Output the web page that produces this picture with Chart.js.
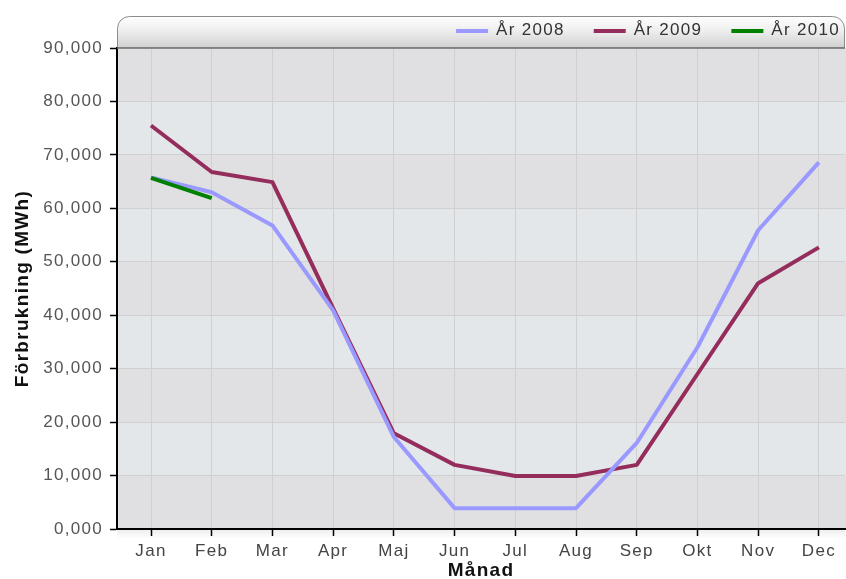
<!DOCTYPE html>
<html><head><meta charset="utf-8">
<script src="https://cdn.jsdelivr.net/npm/chart.js@4/dist/chart.umd.min.js"></script>
<style>html,body{margin:0;padding:0;background:#fff;}</style>
</head><body>
<canvas id="c" width="846" height="579"></canvas>
<script>
const months = ['Jan','Feb','Mar','Apr','Maj','Jun','Jul','Aug','Sep','Okt','Nov','Dec'];
const seriesNames = ['År 2008','År 2009','År 2010'];
const seriesColors = ['#9999ff','#952d5c','#008000'];
const values2008 = [65800, 63000, 56800, 40900, 17200, 3900, 3900, 3900, 16100, 34000, 55900, 68600];
const values2009 = [75500, 66800, 64900, 41300, 17900, 12000, 9900, 9900, 12000, 29000, 46000, 52700];
const values2010 = [65700, 61900];
const yTickValues = [0,10000,20000,30000,40000,50000,60000,70000,80000,90000];
const yTickLabels = ['0,000','10,000','20,000','30,000','40,000','50,000','60,000','70,000','80,000','90,000'];

const FONT = "'Liberation Sans', Arial, Helvetica, sans-serif";
const SPACING = '1.3px';

const deco = {
  id: 'deco',
  beforeUpdate(chart){ chart.ctx.letterSpacing = SPACING; },
  beforeLayout(chart){ chart.ctx.letterSpacing = SPACING; },
  beforeDraw(chart){
    const ctx = chart.ctx;
    ctx.letterSpacing = SPACING;
    const {left, right, top, bottom} = chart.chartArea;
    const ys = chart.scales.y;
    ctx.save();
    // header bar
    const hTop = 16.5, r = 12, L = left + 0.5, R = right - 0.5;
    const g = ctx.createLinearGradient(0, hTop, 0, top);
    g.addColorStop(0, '#ffffff'); g.addColorStop(0.45, '#eeeeee'); g.addColorStop(1, '#d0d0d0');
    ctx.beginPath();
    ctx.moveTo(L, top);
    ctx.lineTo(L, hTop + r);
    ctx.arcTo(L, hTop, L + r, hTop, r);
    ctx.lineTo(R - r, hTop);
    ctx.arcTo(R, hTop, R, hTop + r, r);
    ctx.lineTo(R, top);
    ctx.closePath();
    ctx.fillStyle = g; ctx.fill();
    ctx.strokeStyle = '#8c8c8c'; ctx.lineWidth = 1; ctx.stroke();
    // alternating bands
    for (let i = 0; i < yTickValues.length - 1; i++) {
      const y0 = ys.getPixelForValue(yTickValues[i]);
      const y1 = ys.getPixelForValue(yTickValues[i + 1]);
      ctx.fillStyle = (i % 2 === 0) ? '#e0e0e2' : '#e4e7ea';
      ctx.fillRect(left, y1, chart.width - left, y0 - y1);
    }
    // soft shadow under x axis
    const sg = ctx.createLinearGradient(0, bottom, 0, bottom + 10);
    sg.addColorStop(0, 'rgba(0,0,0,0.07)'); sg.addColorStop(1, 'rgba(0,0,0,0)');
    ctx.fillStyle = sg;
    ctx.fillRect(left, bottom, right - left, 10);
    ctx.restore();
  },
  afterDraw(chart){
    const ctx = chart.ctx;
    const {left, right, top} = chart.chartArea;
    ctx.save();
    ctx.letterSpacing = SPACING;
    ctx.strokeStyle = '#707070'; ctx.lineWidth = 1.5;
    ctx.beginPath(); ctx.moveTo(left, top); ctx.lineTo(right, top); ctx.stroke();
    // legend
    ctx.font = '17px ' + FONT;
    ctx.textBaseline = 'middle';
    ctx.textAlign = 'left';
    let x = right - 5;
    const items = chart.data.datasets.map(d => ({text: d.label, color: d.borderColor}));
    for (let i = items.length - 1; i >= 0; i--) {
      const w = ctx.measureText(items[i].text).width;
      const tx = x - w;
      ctx.fillStyle = '#333';
      ctx.fillText(items[i].text, tx, 30);
      const le = tx - 8, ls = le - 32;
      ctx.strokeStyle = items[i].color; ctx.lineWidth = 4;
      ctx.beginPath(); ctx.moveTo(ls, 31); ctx.lineTo(le, 31); ctx.stroke();
      x = ls - 29;
    }
    ctx.restore();
  }
};

const pts = arr => arr.map((v, i) => ({x: i, y: v}));
const allValues = [values2008, values2009, values2010];
const orders = [1, 2, 0];

new Chart(document.getElementById('c'), {
  type: 'line',
  data: {
    datasets: allValues.map((vals, k) => ({
      label: seriesNames[k],
      data: pts(vals),
      borderColor: seriesColors[k],
      backgroundColor: seriesColors[k],
      borderWidth: 4,
      pointRadius: 0,
      pointHoverRadius: 0,
      tension: 0,
      fill: false,
      borderJoinStyle: 'round',
      order: orders[k]
    }))
  },
  options: {
    responsive: false,
    animation: false,
    devicePixelRatio: 1,
    layout: {padding: {left: 0, right: 1, top: 48, bottom: 0}},
    plugins: {legend: {display: false}, tooltip: {enabled: false}},
    scales: {
      x: {
        type: 'linear',
        min: -0.56, max: 11.43,
        afterBuildTicks: s => { s.ticks = months.map((m, i) => ({value: i})); },
        afterFit: s => { s.height = 50; },
        ticks: {
          autoSkip: false, maxRotation: 0, padding: 5,
          callback: (v, i) => months[i],
          color: '#444', font: {family: FONT, size: 17}
        },
        grid: {color: '#d0d0d0', lineWidth: 1, tickLength: 7, tickColor: '#000', tickWidth: 1.5},
        border: {display: true, color: '#000', width: 2},
        title: {display: true, text: 'Månad', color: '#111', font: {family: FONT, size: 19, weight: 'bold', lineHeight: 1}, padding: {top: 0, bottom: -1}}
      },
      y: {
        type: 'linear',
        min: 0, max: 90000,
        afterBuildTicks: s => { s.ticks = yTickValues.map(v => ({value: v})); },
        afterFit: s => { s.width = 117; },
        ticks: {
          padding: 7,
          callback: (v, i) => yTickLabels[i],
          color: '#555', font: {family: FONT, size: 17}
        },
        grid: {color: '#d0d0d0', lineWidth: 1, tickLength: 7, tickColor: '#000', tickWidth: 1.5},
        border: {display: true, color: '#000', width: 2},
        title: {display: true, text: 'Förbrukning (MWh)', color: '#111', font: {family: FONT, size: 19, weight: 'bold', lineHeight: 1}, padding: {top: 13, bottom: 0}}
      }
    }
  },
  plugins: [deco]
});
</script>
</body></html>
